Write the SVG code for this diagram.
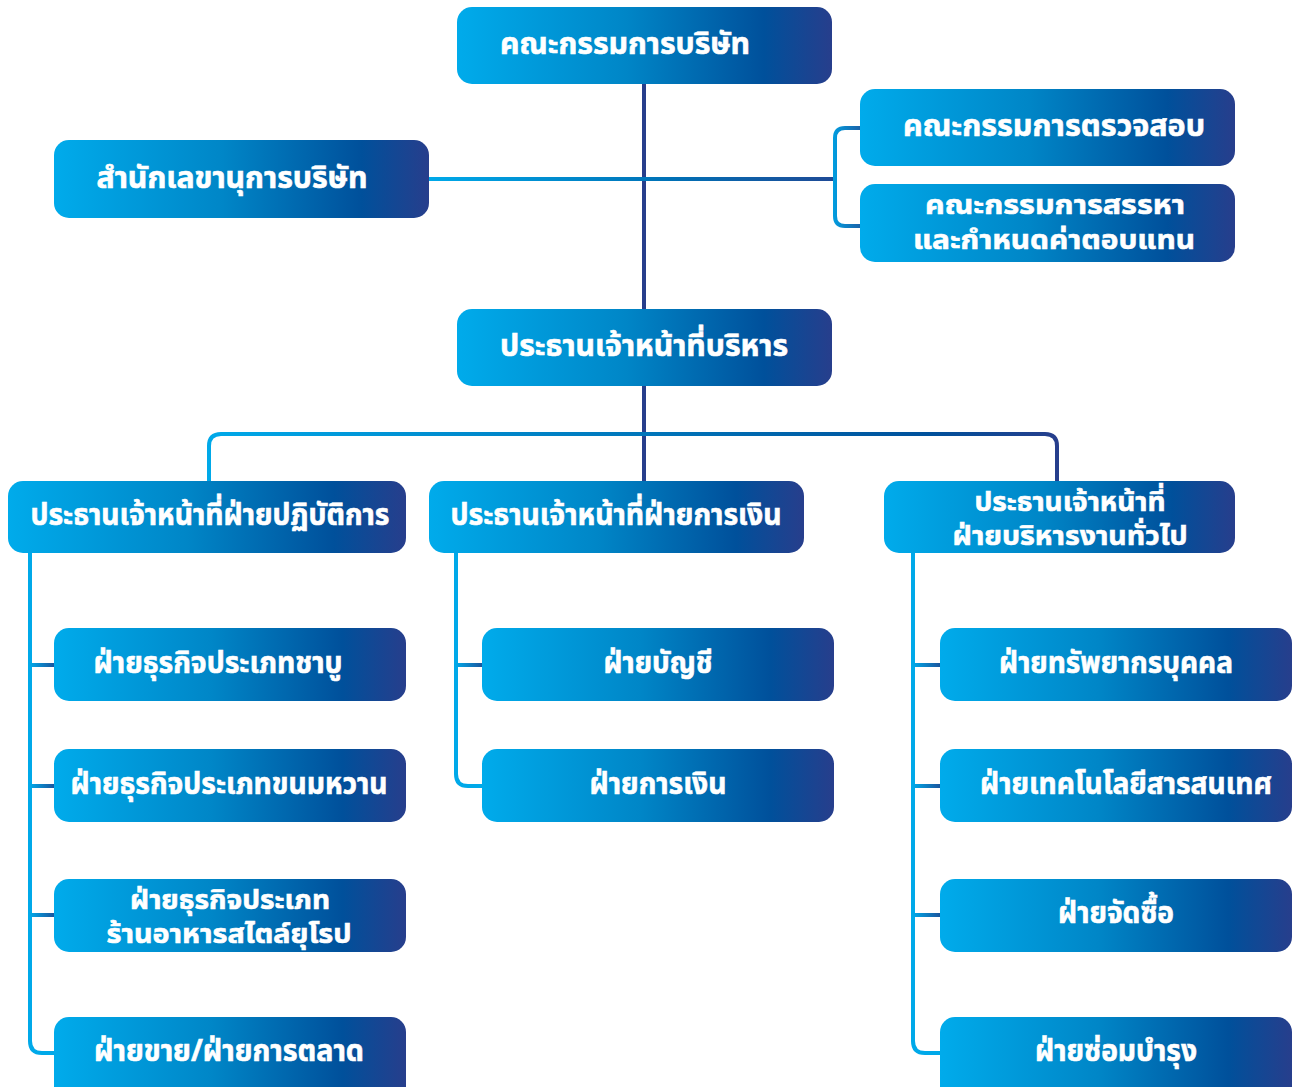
<svg xmlns="http://www.w3.org/2000/svg" width="1294" height="1087" viewBox="0 0 1294 1087">
<defs>
<linearGradient id="boxg" x1="0" y1="0" x2="1" y2="0">
<stop offset="0" stop-color="#00ABEB"/>
<stop offset="0.45" stop-color="#0086C7"/>
<stop offset="0.82" stop-color="#00509B"/>
<stop offset="1" stop-color="#273E8C"/>
</linearGradient>
<linearGradient id="secg" gradientUnits="userSpaceOnUse" x1="429" y1="0" x2="834" y2="0">
<stop offset="0" stop-color="#00A9E9"/>
<stop offset="0.6" stop-color="#0070B5"/>
<stop offset="1" stop-color="#1F4A96"/>
</linearGradient>
<linearGradient id="busg" gradientUnits="userSpaceOnUse" x1="207" y1="0" x2="1059" y2="0">
<stop offset="0" stop-color="#00A9E9"/>
<stop offset="0.55" stop-color="#0072B7"/>
<stop offset="0.85" stop-color="#00509B"/>
<stop offset="1" stop-color="#273E8C"/>
</linearGradient>
<linearGradient id="stubL" gradientUnits="userSpaceOnUse" x1="30" y1="0" x2="56" y2="0">
<stop offset="0" stop-color="#00A9E9"/><stop offset="1" stop-color="#1D4F98"/>
</linearGradient>
<linearGradient id="stubM" gradientUnits="userSpaceOnUse" x1="456" y1="0" x2="484" y2="0">
<stop offset="0" stop-color="#00A9E9"/><stop offset="1" stop-color="#1D4F98"/>
</linearGradient>
<linearGradient id="stubR" gradientUnits="userSpaceOnUse" x1="913" y1="0" x2="942" y2="0">
<stop offset="0" stop-color="#00A9E9"/><stop offset="1" stop-color="#1D4F98"/>
</linearGradient>
<linearGradient id="brk" gradientUnits="userSpaceOnUse" x1="832" y1="0" x2="862" y2="0">
<stop offset="0" stop-color="#00A0E2"/><stop offset="1" stop-color="#1D5FA6"/>
</linearGradient>
</defs>
<style>
.box{fill:url(#boxg);}
.t{font-family:"Noto Sans","Noto Sans Thai","DejaVu Sans",sans-serif;font-weight:700;font-size:30px;fill:#ffffff;stroke:#ffffff;stroke-width:0.6px;text-anchor:middle;}
.t2{font-size:27px;}
.ln{fill:none;stroke-width:4;stroke-linecap:butt;}
</style>
<rect width="1294" height="1087" fill="#ffffff"/>
<g id="connectors">
<line class="ln" x1="644" y1="84" x2="644" y2="309" stroke="#273E8C"/>
<line class="ln" x1="429" y1="179" x2="834" y2="179" stroke="url(#secg)"/>
<path class="ln" d="M860 128 H845 Q835 128 835 138 V216 Q835 226 845 226 H860" stroke="url(#brk)"/>
<line class="ln" x1="644" y1="386" x2="644" y2="481" stroke="#273E8C"/>
<path class="ln" d="M209 481 V446 Q209 434 221 434 H1045 Q1057 434 1057 446 V481" stroke="url(#busg)"/>
<path class="ln" d="M30 553 V1041 Q30 1053 42 1053 H54" stroke="#00A9E9"/>
<line class="ln" x1="30" y1="665" x2="54" y2="665" stroke="url(#stubL)"/>
<line class="ln" x1="30" y1="786" x2="54" y2="786" stroke="url(#stubL)"/>
<line class="ln" x1="30" y1="915" x2="54" y2="915" stroke="url(#stubL)"/>
<path class="ln" d="M456 553 V774 Q456 786 468 786 H482" stroke="#00A9E9"/>
<line class="ln" x1="456" y1="665" x2="482" y2="665" stroke="url(#stubM)"/>
<path class="ln" d="M913 553 V1041 Q913 1053 925 1053 H940" stroke="#00A9E9"/>
<line class="ln" x1="913" y1="665" x2="940" y2="665" stroke="url(#stubR)"/>
<line class="ln" x1="913" y1="786" x2="940" y2="786" stroke="url(#stubR)"/>
<line class="ln" x1="913" y1="915" x2="940" y2="915" stroke="url(#stubR)"/>
</g>
<g id="board"><rect class="box" x="457" y="7" width="375" height="77" rx="15"/><text class="t" x="625" y="54" textLength="250" lengthAdjust="spacingAndGlyphs">คณะกรรมการบริษัท</text></g>
<g id="secretary"><rect class="box" x="54" y="140" width="375" height="78" rx="15"/><text class="t" x="232" y="188" textLength="271" lengthAdjust="spacingAndGlyphs">สำนักเลขานุการบริษัท</text></g>
<g id="audit"><rect class="box" x="860" y="89" width="375" height="77" rx="15"/><text class="t" x="1054" y="136" textLength="302" lengthAdjust="spacingAndGlyphs">คณะกรรมการตรวจสอบ</text></g>
<g id="nomination"><rect class="box" x="860" y="184" width="375" height="78" rx="15"/><text class="t t2" x="1055" y="214" textLength="260" lengthAdjust="spacingAndGlyphs">คณะกรรมการสรรหา</text><text class="t t2" x="1054" y="249" textLength="282" lengthAdjust="spacingAndGlyphs">และกำหนดค่าตอบแทน</text></g>
<g id="ceo"><rect class="box" x="457" y="309" width="375" height="77" rx="15"/><text class="t" x="644" y="356" textLength="288" lengthAdjust="spacingAndGlyphs">ประธานเจ้าหน้าที่บริหาร</text></g>
<g id="coo"><rect class="box" x="8" y="481" width="398" height="72" rx="15"/><text class="t" x="210" y="525" textLength="359" lengthAdjust="spacingAndGlyphs">ประธานเจ้าหน้าที่ฝ่ายปฏิบัติการ</text></g>
<g id="cfo"><rect class="box" x="429" y="481" width="375" height="72" rx="15"/><text class="t" x="616" y="525" textLength="331" lengthAdjust="spacingAndGlyphs">ประธานเจ้าหน้าที่ฝ่ายการเงิน</text></g>
<g id="cao"><rect class="box" x="884" y="481" width="351" height="72" rx="15"/><text class="t t2" x="1070" y="511" textLength="191" lengthAdjust="spacingAndGlyphs">ประธานเจ้าหน้าที่</text><text class="t t2" x="1070" y="545" textLength="235" lengthAdjust="spacingAndGlyphs">ฝ่ายบริหารงานทั่วไป</text></g>
<g id="shabu"><rect class="box" x="54" y="628" width="352" height="73" rx="15"/><text class="t" x="218" y="673" textLength="249" lengthAdjust="spacingAndGlyphs">ฝ่ายธุรกิจประเภทชาบู</text></g>
<g id="dessert"><rect class="box" x="54" y="749" width="352" height="73" rx="15"/><text class="t" x="229" y="794" textLength="317" lengthAdjust="spacingAndGlyphs">ฝ่ายธุรกิจประเภทขนมหวาน</text></g>
<g id="european"><rect class="box" x="54" y="879" width="352" height="73" rx="15"/><text class="t t2" x="230" y="909" textLength="200" lengthAdjust="spacingAndGlyphs">ฝ่ายธุรกิจประเภท</text><text class="t t2" x="229" y="943" textLength="245" lengthAdjust="spacingAndGlyphs">ร้านอาหารสไตล์ยุโรป</text></g>
<g id="sales"><rect class="box" x="54" y="1017" width="352" height="90" rx="15"/><text class="t" x="229" y="1061" textLength="270" lengthAdjust="spacingAndGlyphs">ฝ่ายขาย/ฝ่ายการตลาด</text></g>
<g id="accounting"><rect class="box" x="482" y="628" width="352" height="73" rx="15"/><text class="t" x="658" y="673" textLength="109" lengthAdjust="spacingAndGlyphs">ฝ่ายบัญชี</text></g>
<g id="finance"><rect class="box" x="482" y="749" width="352" height="73" rx="15"/><text class="t" x="658" y="794" textLength="137" lengthAdjust="spacingAndGlyphs">ฝ่ายการเงิน</text></g>
<g id="hr"><rect class="box" x="940" y="628" width="352" height="73" rx="15"/><text class="t" x="1116" y="673" textLength="234" lengthAdjust="spacingAndGlyphs">ฝ่ายทรัพยากรบุคคล</text></g>
<g id="it"><rect class="box" x="940" y="749" width="352" height="73" rx="15"/><text class="t" x="1126" y="794" textLength="292" lengthAdjust="spacingAndGlyphs">ฝ่ายเทคโนโลยีสารสนเทศ</text></g>
<g id="purchasing"><rect class="box" x="940" y="879" width="352" height="73" rx="15"/><text class="t" x="1116" y="923" textLength="116" lengthAdjust="spacingAndGlyphs">ฝ่ายจัดซื้อ</text></g>
<g id="maintenance"><rect class="box" x="940" y="1017" width="352" height="90" rx="15"/><text class="t" x="1116" y="1061" textLength="162" lengthAdjust="spacingAndGlyphs">ฝ่ายซ่อมบำรุง</text></g>
</svg>
